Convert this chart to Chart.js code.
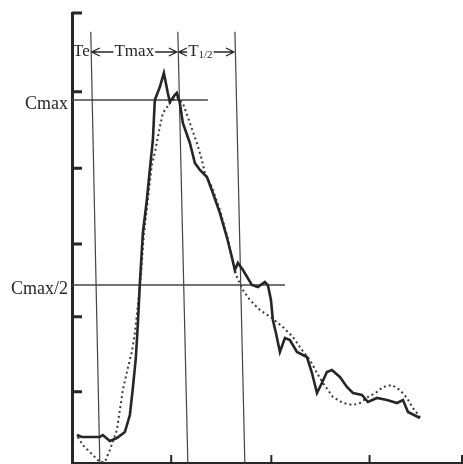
<!DOCTYPE html>
<html>
<head>
<meta charset="utf-8">
<script src="https://cdn.jsdelivr.net/npm/chart.js@4"></script>
<style>
  html, body { margin: 0; padding: 0; background: #fff; }
  #wrap { width: 463px; height: 464px; }
</style>
</head>
<body>
<div id="wrap"><canvas id="grafico"></canvas></div>
<script>
// curva medida (linha cheia)
const solidX = [0, 0.052, 0.239, 0.270, 0.343, 0.416, 0.499, 0.551, 0.582, 0.613, 0.634, 0.655, 0.686, 0.727,
  0.758, 0.790, 0.800, 0.810, 0.862, 0.904, 0.945, 0.966, 1.018, 1.039, 1.070, 1.101, 1.174, 1.226, 1.278,
  1.351, 1.413, 1.486, 1.558, 1.610, 1.641, 1.673, 1.725, 1.818, 1.881, 1.953, 1.984, 2.016, 2.036, 2.068,
  2.109, 2.161, 2.213, 2.286, 2.390, 2.442, 2.494, 2.545, 2.597, 2.649, 2.732, 2.805, 2.868, 2.961, 3.023,
  3.117, 3.221, 3.325, 3.387, 3.439, 3.564];
const solidY = [0.373, 0.347, 0.347, 0.373, 0.293, 0.333, 0.413, 0.640, 1.000, 1.400, 1.860, 2.400, 3.067, 3.507,
  3.907, 4.307, 4.573, 4.840, 5.013, 5.200, 4.933, 4.813, 4.907, 4.933, 4.800, 4.533, 4.267, 4.000, 3.907,
  3.813, 3.600, 3.333, 3.013, 2.747, 2.573, 2.667, 2.573, 2.373, 2.347, 2.413, 2.373, 2.173, 1.907, 1.733,
  1.480, 1.667, 1.640, 1.480, 1.413, 1.200, 0.933, 1.067, 1.213, 1.240, 1.147, 1.013, 0.933, 0.907, 0.813,
  0.867, 0.840, 0.800, 0.840, 0.680, 0.600];

// curva ajustada (pontilhada)
const dottedX = [0.010, 0.062, 0.166, 0.239, 0.291, 0.343, 0.416, 0.478, 0.530, 0.571, 0.603, 0.634, 0.665,
  0.696, 0.738, 0.779, 0.810, 0.862, 0.894, 0.966, 1.039, 1.101, 1.174, 1.247, 1.299, 1.330, 1.403, 1.486,
  1.558, 1.610, 1.662, 1.725, 1.797, 1.901, 2.026, 2.140, 2.244, 2.338, 2.421, 2.494, 2.556, 2.660, 2.764,
  2.868, 2.940, 3.023, 3.117, 3.179, 3.273, 3.356, 3.429, 3.491, 3.564];
const dottedY = [0.347, 0.240, 0.107, 0.013, 0.013, 0.173, 0.440, 0.973, 1.267, 1.480, 1.733, 2.100, 2.500,
  3.050, 3.507, 3.973, 4.133, 4.480, 4.667, 4.800, 4.880, 4.800, 4.533, 4.267, 4.040, 3.867, 3.680, 3.373,
  3.040, 2.733, 2.480, 2.307, 2.173, 2.040, 1.933, 1.813, 1.680, 1.507, 1.373, 1.200, 1.067, 0.880, 0.800,
  0.773, 0.800, 0.880, 0.947, 1.013, 1.040, 0.973, 0.867, 0.733, 0.613];

// linhas de referência verticais (Te, Tmax, T1/2)
const refNomes = ['Te', 'Tmax', 'T1/2'];
const refTopoX = [0.145, 1.049, 1.642];
const refBaseX = [0.239, 1.153, 1.745];
const refTopoY = 5.75;
const setasY = 5.48;

// níveis horizontais
const niveisNomes = ['Cmax', 'Cmax/2'];
const niveisY = [4.84, 2.373];
const niveisFimX = [1.361, 2.161];

// marcas dos eixos
const xTicks = [0.98, 2.02, 3.04, 4];
const yTicks = [0.95, 1.95, 2.92, 3.93, 4.95, 6];
const xMin = -0.05, xMax = 4, yMin = 0, yMax = 6;

const pontos = (xs, ys) => xs.map((v, i) => ({ x: v, y: ys[i] }));
const cor = '#262626';

const datasets = [
  { data: pontos(solidX, solidY), borderColor: cor, borderWidth: 2.6 },
  { data: pontos(dottedX, dottedY), borderColor: '#3a3a3a', borderWidth: 2, borderDash: [2, 3] }
];
refNomes.forEach((n, i) => {
  datasets.push({ data: [{ x: refTopoX[i], y: refTopoY }, { x: refBaseX[i], y: yMin }], borderColor: '#444', borderWidth: 1.2 });
});
niveisNomes.forEach((n, i) => {
  datasets.push({ data: [{ x: xMin, y: niveisY[i] }, { x: niveisFimX[i], y: niveisY[i] }], borderColor: '#444', borderWidth: 1.4 });
});

function seta(ctx, x1, x2, y) {
  // desenha linha de x1 até x2 com ponta em x2
  const d = x2 > x1 ? 1 : -1;
  ctx.beginPath();
  ctx.moveTo(x1, y);
  ctx.lineTo(x2, y);
  ctx.moveTo(x2 - d * 8, y - 4);
  ctx.lineTo(x2, y);
  ctx.lineTo(x2 - d * 8, y + 4);
  ctx.stroke();
}

const decoracao = {
  id: 'decoracao',
  afterDatasetsDraw(chart) {
    const { ctx, scales: { x, y }, chartArea } = chart;
    ctx.save();
    ctx.strokeStyle = cor;
    ctx.fillStyle = cor;

    // marcas internas do eixo y
    ctx.lineWidth = 3;
    yTicks.forEach(v => {
      const py = y.getPixelForValue(v);
      ctx.beginPath();
      ctx.moveTo(chartArea.left, py);
      ctx.lineTo(chartArea.left + 10, py);
      ctx.stroke();
    });
    // marcas internas do eixo x
    ctx.lineWidth = 2;
    xTicks.forEach(v => {
      const px = x.getPixelForValue(v);
      ctx.beginPath();
      ctx.moveTo(px, chartArea.bottom);
      ctx.lineTo(px, chartArea.bottom - 8);
      ctx.stroke();
    });

    // rótulos dos níveis
    ctx.font = '18px "Liberation Serif"';
    ctx.textAlign = 'right';
    ctx.textBaseline = 'middle';
    niveisNomes.forEach((n, i) => {
      ctx.fillText(n, chartArea.left - 4, y.getPixelForValue(niveisY[i]) + 4);
    });

    // Te |<- Tmax ->|<- T1/2 ->|
    const py = y.getPixelForValue(setasY);
    const xs = refTopoX.map(v => x.getPixelForValue(v));
    ctx.font = '17px "Liberation Serif"';
    ctx.textAlign = 'right';
    ctx.fillText(refNomes[0], xs[0] - 1, py);

    ctx.lineWidth = 1.3;
    ctx.textAlign = 'left';
    // Tmax
    let w = ctx.measureText(refNomes[1]).width;
    let c = (xs[0] + xs[1]) / 2;
    ctx.fillText(refNomes[1], c - w / 2, py);
    seta(ctx, c - w / 2 - 1, xs[0] + 1, py);
    seta(ctx, c + w / 2 + 1, xs[1] - 1, py);

    // T1/2 com subscrito
    const wT = ctx.measureText('T').width;
    ctx.font = '11px "Liberation Serif"';
    const wSub = ctx.measureText('1/2').width;
    w = wT + wSub;
    c = (xs[1] + xs[2]) / 2 - 6;
    ctx.font = '17px "Liberation Serif"';
    ctx.fillText('T', c - w / 2, py);
    ctx.font = '11px "Liberation Serif"';
    ctx.fillText('1/2', c - w / 2 + wT, py + 3);
    seta(ctx, c - w / 2 - 1, xs[1] + 1, py);
    seta(ctx, c + w / 2 + 1, xs[2] - 1, py);

    ctx.restore();
  }
};

new Chart(document.getElementById('grafico').getContext('2d'), {
  type: 'scatter',
  data: { datasets: datasets },
  options: {
    responsive: true,
    maintainAspectRatio: false,
    animation: false,
    layout: { padding: { left: 72, right: 1, top: 13, bottom: 1 } },
    datasets: { scatter: { showLine: true, pointRadius: 0, tension: 0, fill: false } },
    plugins: { legend: { display: false }, tooltip: { enabled: false } },
    scales: {
      x: {
        type: 'linear', min: xMin, max: xMax,
        ticks: { display: false },
        grid: { display: false, drawTicks: false },
        border: { display: true, color: cor, width: 2 }
      },
      y: {
        type: 'linear', min: yMin, max: yMax,
        ticks: { display: false },
        grid: { display: false, drawTicks: false },
        border: { display: true, color: cor, width: 3 }
      }
    }
  },
  plugins: [decoracao]
});
</script>
</body>
</html>
